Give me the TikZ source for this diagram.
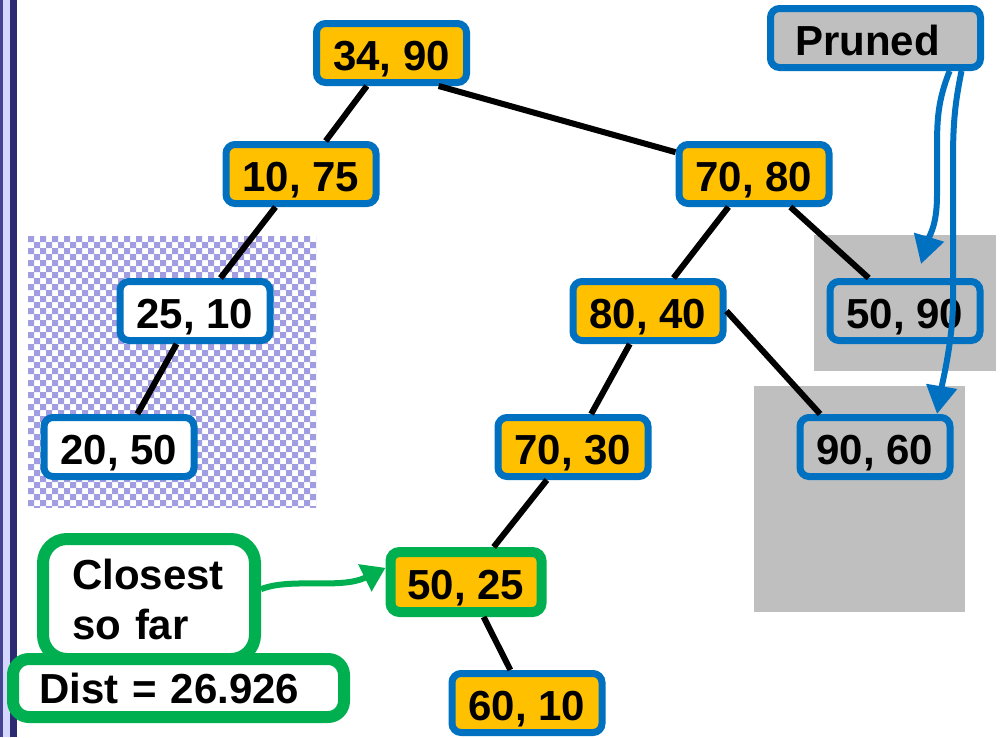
\documentclass[tikz,border=0pt]{standalone}
\usepackage{fontspec}
\setmainfont{Liberation Sans}
\usetikzlibrary{arrows.meta}
\definecolor{kdblue}{HTML}{0070C0}
\definecolor{kdgold}{HTML}{FFC000}
\definecolor{kdgreen}{HTML}{00B050}
\definecolor{kdgrey}{HTML}{BFBFBF}
\definecolor{checker}{HTML}{A09EE0}
\definecolor{barnavy}{HTML}{2B2A72}
\definecolor{barpurple}{HTML}{45458F}
\definecolor{barlight}{HTML}{D4D8FF}
\tikzset{
  point/.style={draw=kdblue,line width=7pt,rounded corners=9pt,fill=kdgold,font=\bfseries\fontsize{42}{50}\selectfont,minimum width=150pt,minimum height=59pt,inner sep=0pt,text height=35pt,text depth=0pt},
  visited/.style={point,fill=white},
  cut/.style={point,fill=none},
  best/.style={point,draw=kdgreen,line width=10pt,minimum width=151pt,minimum height=60pt},
  cutlabel/.style={point,fill=kdgrey,minimum width=210pt,text width=161pt,align=left,inner xsep=24.5pt},
  callout/.style={font=\bfseries\fontsize{42}{50}\selectfont,align=left,inner ysep=0pt,line width=12pt,draw=kdgreen,fill=white},
  edge/.style={line width=6pt,draw=black},
  pointer/.style={-{Triangle[length=28pt,width=30pt]},line width=6pt,draw=kdblue},
  bestpointer/.style={-{Triangle[length=23pt,width=29pt]},line width=6pt,draw=kdgreen}
}
\begin{document}
\begin{tikzpicture}[x=1pt,y=-1pt]
\useasboundingbox (0,0) rectangle (1007,737);

% slide bar and shaded regions
\fill[barpurple] (0,0) rectangle (3,737);
\fill[barlight] (3,0) rectangle (10,737);
\fill[barnavy] (10,0) rectangle (17,737);
\begin{scope}
\clip (28,236) rectangle (316,507);
\foreach \i in {0,12,...,288} \foreach \j in {0,12,...,264}
  \fill[checker] (28+\i,236+\j) rectangle ++(6,6) (34+\i,242+\j) rectangle ++(6,6);
\end{scope}
\fill[kdgrey] (814,235) rectangle (996,371);
\fill[kdgrey] (754,386) rectangle (965,612);

% tree nodes
\node[point] (n3490) at (391.5,53) {34, 90};
\node[point] (n1075) at (301,174) {10, 75};
\node[point] (n7080) at (754,174) {70, 80};
\node[visited] (n2510) at (195,311) {25, 10};
\node[point] (n8040) at (648,311) {80, 40};
\node[cut] (n5090) at (905,311) {50, 90};
\node[visited] (n2050) at (119,447) {20, 50};
\node[point] (n7030) at (573,447) {70, 30};
\node[cut] (n9060) at (875,447) {90, 60};
\node[best] (n5025) at (466,582) {50, 25};
\node[point] (n6010) at (527,703) {60, 10};

% labels
\node[cutlabel] (prunedlabel) at (875.5,38) {Pruned};
\node[callout,rounded corners=24pt,minimum width=212pt,minimum height=120pt,text width=154pt,inner xsep=29pt] (closest) at (149,599) {Closest\\so far};
\node[callout,rounded corners=16pt,minimum width=331pt,minimum height=58pt,text width=279pt,inner xsep=26pt] (dist) at (178.5,688) {Dist = 26.926};
\coordinate (cut1) at (921,264);

% tree edges
\draw[edge] (n3490) -- (n1075);
\draw[edge] (n3490.-35) -- (n7080);
\draw[edge] (n1075) -- (n2510);
\draw[edge] (n2510) -- (n2050);
\draw[edge] (n7080) -- (n8040);
\draw[edge] (n7080) -- (n5090);
\draw[edge] (n8040.east) -- (n9060.149);
\draw[edge] (n8040) -- (n7030);
\draw[edge] (n7030) -- (n5025);
\draw[edge] (n5025) -- (n6010);

% pointers
\draw[bestpointer] (closest.5) .. controls +(30,-12) and +(-45,22) .. (n5025.170);
\draw[pointer] (prunedlabel.-24) .. controls +(-12,30) and +(0,-30) .. (937,150) -- (937,195) .. controls +(0,30) and +(9,-30) .. (cut1);
\draw[pointer] (prunedlabel.-21) .. controls +(-6,30) and +(0,-40) .. (953,160) -- (953,300) .. controls +(0,40) and +(5,-30) .. (n9060.28);
\end{tikzpicture}
\end{document}
